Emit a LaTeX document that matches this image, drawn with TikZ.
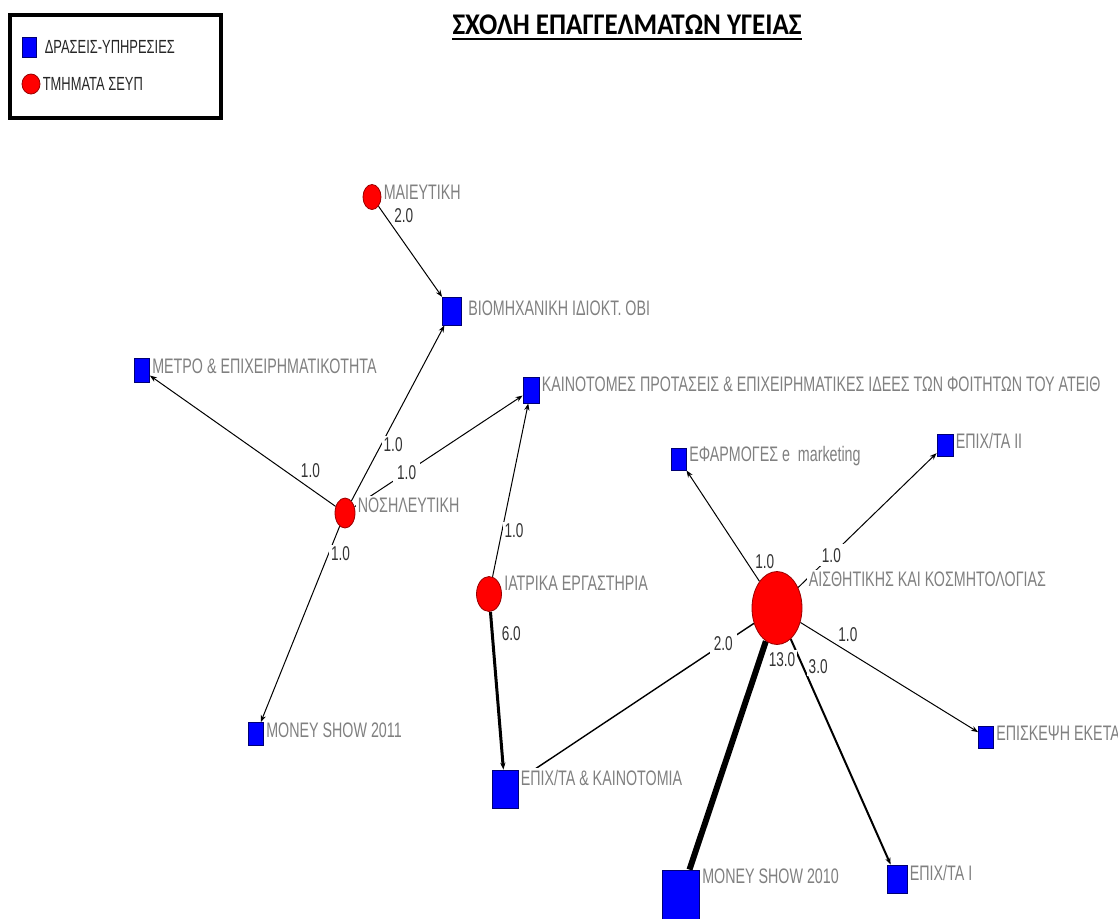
\documentclass[tikz,border=0pt]{standalone}
\usepackage{fontspec}
\setmainfont{Liberation Sans}
\newfontfamily\lblfont[FakeStretch=0.68]{Liberation Sans}
\newfontfamily\titlefont[FakeStretch=0.9]{Carlito}
\usepackage{xcolor}
\usetikzlibrary{shapes.geometric,arrows.meta,backgrounds}

\definecolor{deptred}{RGB}{255,0,0}
\definecolor{actblue}{RGB}{0,0,255}
\definecolor{lblgray}{RGB}{128,128,128}

\begin{document}
\begin{tikzpicture}[x=0.5pt,y=-0.5pt,
    dept/.style={shape=ellipse, draw=deptred!60!black, fill=deptred, inner sep=0pt},
    act/.style={shape=rectangle, draw=actblue!45!black, fill=actblue, inner sep=0pt},
    lbl/.style={text=lblgray, font=\lblfont\fontsize{10.5}{12}\selectfont, fill=white, inner sep=1pt},
    leg/.style={text=black!85, font=\lblfont\fontsize{9.5}{11}\selectfont, inner sep=1pt},
    wt/.style={text=black!80, font=\lblfont\fontsize{10}{12}\selectfont, fill=white, inner sep=1pt},
    link/.style={line width=0.5pt, -{Stealth[length=3.5pt,width=2.6pt]}}]
    \useasboundingbox (0,0) rectangle (1118,918);

    % legend
    \draw[line width=2pt] (10,15) rectangle (221,118);
    \node[act, minimum width=7pt, minimum height=10pt, label={[leg,xshift=3pt]east:ΔΡΑΣΕΙΣ-ΥΠΗΡΕΣΙΕΣ}] (keyact) at (29,47) {};
    \node[dept, minimum width=9pt, minimum height=10pt, label={[leg]east:ΤΜΗΜΑΤΑ ΣΕΥΠ}] (keydept) at (31,84) {};

    % title
    \node[font=\titlefont\bfseries\fontsize{15}{17}\selectfont, inner sep=0pt] (title) at (627,25) {ΣΧΟΛΗ ΕΠΑΓΓΕΛΜΑΤΩΝ ΥΓΕΙΑΣ};
    \coordinate (ul) at (0,39);
    \draw[line width=1pt] (title.west |- ul) -- (title.east |- ul);

    % departments
    \node[dept, minimum width=9pt, minimum height=12.5pt, label={[lbl,yshift=2.5pt]east:ΜΑΙΕΥΤΙΚΗ}] (mai) at (372,197) {};
    \node[dept, minimum width=10pt, minimum height=15pt, label={[lbl,yshift=4pt]east:ΝΟΣΗΛΕΥΤΙΚΗ}] (nos) at (345,513) {};
    \node[dept, minimum width=12.5pt, minimum height=17.5pt, label={[lbl,yshift=5.5pt]east:ΙΑΤΡΙΚΑ ΕΡΓΑΣΤΗΡΙΑ}] (iatr) at (489,594) {};
    \node[dept, minimum width=25pt, minimum height=36.5pt, label={[lbl,yshift=14.5pt,xshift=2pt]east:ΑΙΣΘΗΤΙΚΗΣ ΚΑΙ ΚΟΣΜΗΤΟΛΟΓΙΑΣ}] (aisth) at (777,608) {};

    % activities
    \node[act, minimum width=9.5pt, minimum height=14pt, label={[lbl,yshift=1.5pt,xshift=2pt]east:ΒΙΟΜΗΧΑΝΙΚΗ ΙΔΙΟΚΤ. ΟΒΙ}] (bio) at (452,311) {};
    \node[act, minimum width=7.5pt, minimum height=12pt, label={[lbl,yshift=2pt]east:ΜΕΤΡΟ \& ΕΠΙΧΕΙΡΗΜΑΤΙΚΟΤΗΤΑ}] (metro) at (142,370) {};
    \node[act, minimum width=8pt, minimum height=13pt, label={[lbl,yshift=3pt]east:ΚΑΙΝΟΤΟΜΕΣ ΠΡΟΤΑΣΕΙΣ \& ΕΠΙΧΕΙΡΗΜΑΤΙΚΕΣ ΙΔΕΕΣ ΤΩΝ ΦΟΙΤΗΤΩΝ ΤΟΥ ΑΤΕΙΘ}] (kain) at (531,390) {};
    \node[act, minimum width=7.5pt, minimum height=11pt, label={[lbl,yshift=1.5pt]east:ΕΦΑΡΜΟΓΕΣ e~~marketing}] (efarm) at (679,459) {};
    \node[act, minimum width=8pt, minimum height=11pt, label={[lbl,yshift=2pt]east:ΕΠΙΧ/ΤΑ ΙΙ}] (epixb) at (945,445) {};
    \node[act, minimum width=7.5pt, minimum height=11pt, label={[lbl,yshift=2pt]east:ΕΠΙΣΚΕΨΗ ΕΚΕΤΑ}] (episk) at (986,737) {};
    \node[act, minimum width=10pt, minimum height=14pt, label={[lbl,yshift=3pt]east:ΕΠΙΧ/ΤΑ Ι}] (epixa) at (897,879) {};
    \node[act, minimum width=18.5pt, minimum height=25pt, label={[lbl,yshift=9.5pt]east:MONEY SHOW 2010}] (msten) at (681,895) {};
    \node[act, minimum width=13pt, minimum height=19pt, label={[lbl,yshift=5.5pt]east:ΕΠΙΧ/ΤΑ \& ΚΑΙΝΟΤΟΜΙΑ}] (epixk) at (505,789) {};
    \node[act, minimum width=7.5pt, minimum height=11.5pt, label={[lbl,yshift=2pt]east:MONEY SHOW 2011}] (mseleven) at (256,734) {};

    \begin{scope}[on background layer]
    \draw[link] (mai) -- node[wt,pos=0.21,anchor=south west]{2.0} (bio);
    \draw[link] (nos) -- node[wt,pos=0.2,anchor=south west]{1.0} (metro);
    \draw[link] (nos) -- node[wt,pos=0.32,anchor=west]{1.0} (bio);
    \draw[link] (nos) -- node[wt,pos=0.31,inner sep=2pt]{1.0} (kain);
    \draw[link] (nos) -- node[wt,pos=0.14,anchor=west]{1.0} (mseleven);
    \draw[link] (iatr) -- node[wt,pos=0.265,anchor=west]{1.0} (kain);
    \draw[link,line width=1.5pt] (iatr) -- node[wt,pos=0.14,anchor=west,xshift=3pt]{6.0} (epixk);
    \draw[link] (aisth) -- node[wt,pos=0.09,anchor=south west]{1.0} (efarm);
    \draw[link] (aisth) -- node[wt,pos=0.24,inner sep=2pt]{1.0} (epixb);
    \draw[link] (aisth) -- node[wt,pos=0.2,anchor=south west]{1.0} (episk);
    \draw[link,line width=1pt] (aisth) -- node[wt,pos=0.15,anchor=west,yshift=3pt]{3.0} (epixa);
    \draw[line width=3pt] (aisth) -- node[wt,pos=0.08,anchor=west,xshift=2pt]{13.0} (msten);
    \draw[line width=0.7pt] (epixk) -- node[wt,pos=0.87,inner sep=2pt]{2.0} (aisth);
    \end{scope}
\end{tikzpicture}
\end{document}
